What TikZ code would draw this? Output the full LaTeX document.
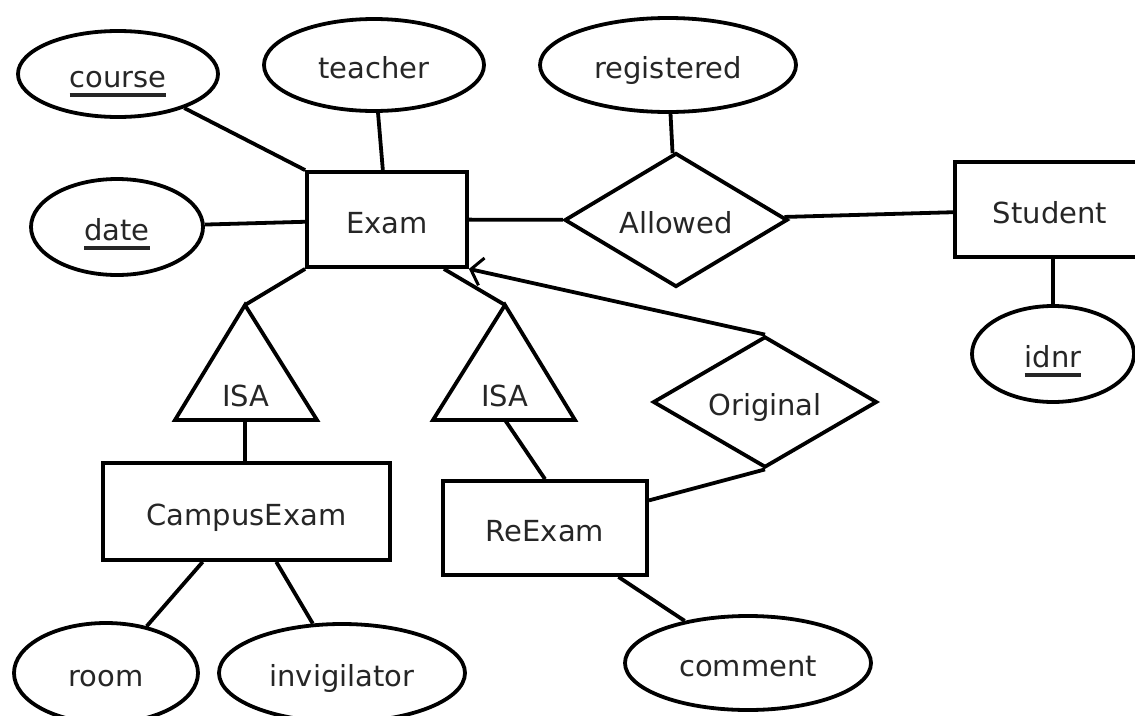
\documentclass[tikz,border=0pt]{standalone}
\usepackage{fontspec}
\setmainfont{DejaVu Sans}
\usetikzlibrary{shapes.geometric,arrows.meta}
\newcommand\keyul[1]{\setbox0\hbox{#1}\rlap{\smash{\rule[-9pt]{\wd0}{3.5pt}}}\box0}
\begin{document}
\begin{tikzpicture}[x=1pt,y=-1pt,
  line width=3.8pt,
  every node/.style={font=\fontsize{29}{34}\selectfont, text=black!85, text height=27pt, text depth=0pt},
  entity/.style={draw, rectangle, inner sep=0pt},
  attr/.style={draw, ellipse, inner sep=0pt},
  rel/.style={draw, diamond, aspect=1.7, inner sep=0pt},
  isatxt/.style={inner sep=0pt},
  link/.style={draw, line width=3.8pt},
  every path/.style={line join=miter}
]
\useasboundingbox (0,0) rectangle (1135,715);

% entities
\node[entity, minimum width=160pt, minimum height=95pt] (exam) at (387,219.5) {Exam};
\node[entity, minimum width=190pt, minimum height=95pt] (student) at (1050,209.5) {Student};
\node[entity, minimum width=287pt, minimum height=97pt] (campus) at (246.5,511.5) {CampusExam};
\node[entity, minimum width=204pt, minimum height=94pt] (reexam) at (545,528) {ReExam};

% attributes
\node[attr, minimum width=200pt, minimum height=86pt] (course) at (118,74) {\keyul{course}};
\node[attr, minimum width=220pt, minimum height=92pt] (teacher) at (374,65) {teacher};
\node[attr, minimum width=256pt, minimum height=94pt] (registered) at (668,65) {registered};
\node[attr, minimum width=172pt, minimum height=96pt] (date) at (117,227) {\keyul{date}};
\node[attr, minimum width=162pt, minimum height=96pt] (idnr) at (1053,354) {\keyul{idnr}};
\node[attr, minimum width=184pt, minimum height=100pt] (room) at (106,673) {room};
\node[attr, minimum width=246pt, minimum height=98pt] (invig) at (342,673) {invigilator};
\node[attr, minimum width=246pt, minimum height=94pt] (comment) at (748,663) {comment};

% relationships
\node[rel, minimum width=223pt, minimum height=134pt] (allowed) at (676,220) {Allowed};
\node[rel, minimum width=224pt, minimum height=131pt] (orig) at (765,402) {Original};

% ISA triangles
\coordinate (isa1top) at (245,305);
\coordinate (isa1base) at (245,420);
\draw (isa1top) -- (175,420) -- (317,420) -- cycle;
\node[isatxt] (isa1) at (246,393) {ISA};
\coordinate (isa2top) at (505,305);
\coordinate (isa2base) at (505,420);
\draw (isa2top) -- (433,420) -- (575,420) -- cycle;
\node[isatxt] (isa2) at (505,393) {ISA};

% connectors
\draw[link] (course) -- (exam.north west);
\draw[link] (teacher) -- (exam);
\draw[link] (date) -- (exam);
\draw[link] (exam) -- (allowed);
\draw[link] (registered) -- (allowed);
\draw[link] (allowed) -- (student);
\draw[link] (student.south -| idnr.north) -- (idnr.north);
\draw[link] (exam.south west) -- (isa1top);
\draw[link] ([xshift=-25pt]exam.south east) -- (isa2top);
\draw[link] (isa1base) -- (isa1base |- campus.north);
\draw[link] (isa2base) -- (reexam.north);
\draw[link, -{Straight Barb[length=11pt,width=28pt,line width=3pt]}] (orig.north) -- (exam.south east);
\draw[link] (orig.south) -- (reexam);
\draw[link] (campus) -- (room);
\draw[link] (campus) -- (invig);
\draw[link] (reexam) -- (comment);
\end{tikzpicture}
\end{document}
